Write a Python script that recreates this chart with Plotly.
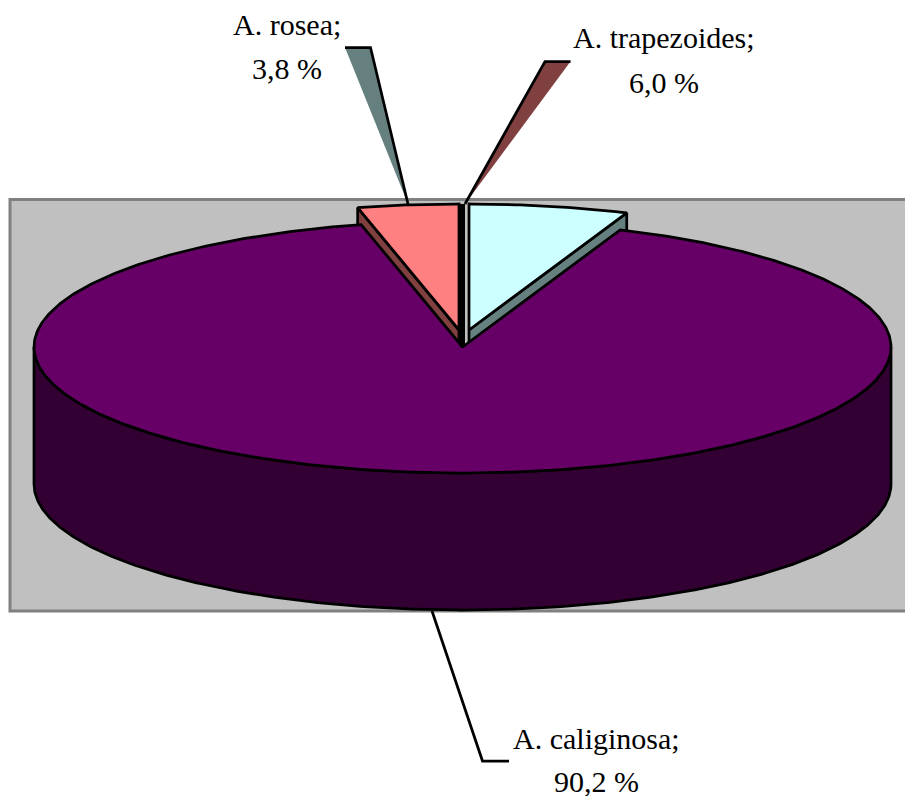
import numpy as np
import plotly.graph_objects as go

# pie data, clockwise from 12 o'clock
species = ["A. trapezoides", "A. caliginosa", "A. rosea"]
percent = [6.0, 90.2, 3.8]
percent_labels = ["6,0 %", "90,2 %", "3,8 %"]

top_colors = ["#CCFFFF", "#660066", "#FF8080"]
wall_colors = ["#668080", "#330033", "#804040"]

# pixel geometry of the tilted disc
CX, CY = 462.5, 347
RX, RY = 428.5, 126
DEPTH = 137
OFFSETS = [(6.5, -17), (0, 0), (-3.5, -17)]  # explosion per slice

LINE = dict(color="black", width=2.75)


def arc(t0, t1, dx=0, dy=0, depth=0):
    t = np.radians(np.linspace(t0, t1, max(int(abs(t1 - t0)) * 2, 2)))
    return CX + dx + RX * np.sin(t), CY + dy + depth - RY * np.cos(t)


def poly(fig, x, y, color):
    fig.add_trace(go.Scatter(x=x, y=y, mode="lines", fill="toself", fillcolor=color,
                             line=LINE, hoverinfo="skip", showlegend=False))


def wedge_top(t0, t1, dx=0, dy=0):
    ax, ay = arc(t0, t1, dx, dy)
    x = np.concatenate([[CX + dx], ax, [CX + dx]])
    y = np.concatenate([[CY + dy], ay, [CY + dy]])
    return x, y


def radial_wall(t, dx, dy):
    # side face of an exploded slice, the big slice hides most of it
    ax, ay = arc(t, t, dx, dy)
    x0, y0 = CX + dx, CY + dy
    return [x0, ax[0], ax[0], x0, x0], [y0, ay[0], ay[0] + DEPTH, y0 + DEPTH, y0]


edges = np.cumsum([0] + percent) * 3.6
fig = go.Figure()

# side faces of the exploded slices
x, y = radial_wall(edges[1], *OFFSETS[0])
poly(fig, x, y, wall_colors[0])
x, y = radial_wall(edges[2], *OFFSETS[2])
poly(fig, x, y, wall_colors[2])

# front wall of the big slice
ax, ay = arc(90, 270)
bx, by = arc(270, 90, depth=DEPTH)
poly(fig, np.concatenate([ax, bx, ax[:1]]), np.concatenate([ay, by, ay[:1]]), wall_colors[1])

# tops
for i in (1, 0, 2):
    x, y = wedge_top(edges[i], edges[i + 1], *OFFSETS[i])
    poly(fig, x, y, top_colors[i])

# leader lines, the two upper ones carry a filled wedge
shapes = [
    dict(type="rect", x0=10, x1=920, y0=199.5, y1=611, layer="below",
         fillcolor="#C0C0C0", line=dict(color="#808080", width=3)),
    dict(type="path", path="M345,47.5 L370.5,47.5 L408,204 Z", fillcolor=wall_colors[0], line_width=0),
    dict(type="path", path="M345,47.5 L370.5,47.5 L408,204", line=LINE),
    dict(type="path", path="M570.5,61.5 L545,61.5 L465,204 Z", fillcolor=wall_colors[2], line_width=0),
    dict(type="path", path="M570.5,61.5 L545,61.5 L465,204", line=LINE),
    dict(type="path", path="M432,611 L482.5,761 L509,761", line=LINE),
    # dark seam between the two exploded slices
    dict(type="line", x0=462.5, x1=462.5, y0=204, y1=347, line=dict(color="black", width=5)),
]

# label name and percent are placed as separate lines
label_pos = [(664, 37, 82), (596, 738, 781), (287, 24.5, 68)]
annotations = []
for name, pct, (lx, y1, y2) in zip(species, percent_labels, label_pos):
    for txt, ly in ((name + ";", y1), (pct, y2)):
        annotations.append(dict(x=lx, y=ly, text=txt, showarrow=False, xanchor="center", yanchor="middle",
                                font=dict(family="Liberation Serif", size=30, color="black")))

fig.update_layout(
    width=905, height=796,
    margin=dict(l=0, r=0, t=0, b=0),
    paper_bgcolor="white", plot_bgcolor="white",
    xaxis=dict(range=[0, 905], visible=False, fixedrange=True),
    yaxis=dict(range=[796, 0], visible=False, fixedrange=True),
    shapes=shapes,
    annotations=annotations,
    showlegend=False,
)

fig.write_html("out.html", config=dict(displayModeBar=False),
               post_script="document.body.style.margin='0';document.body.style.overflow='hidden';")
